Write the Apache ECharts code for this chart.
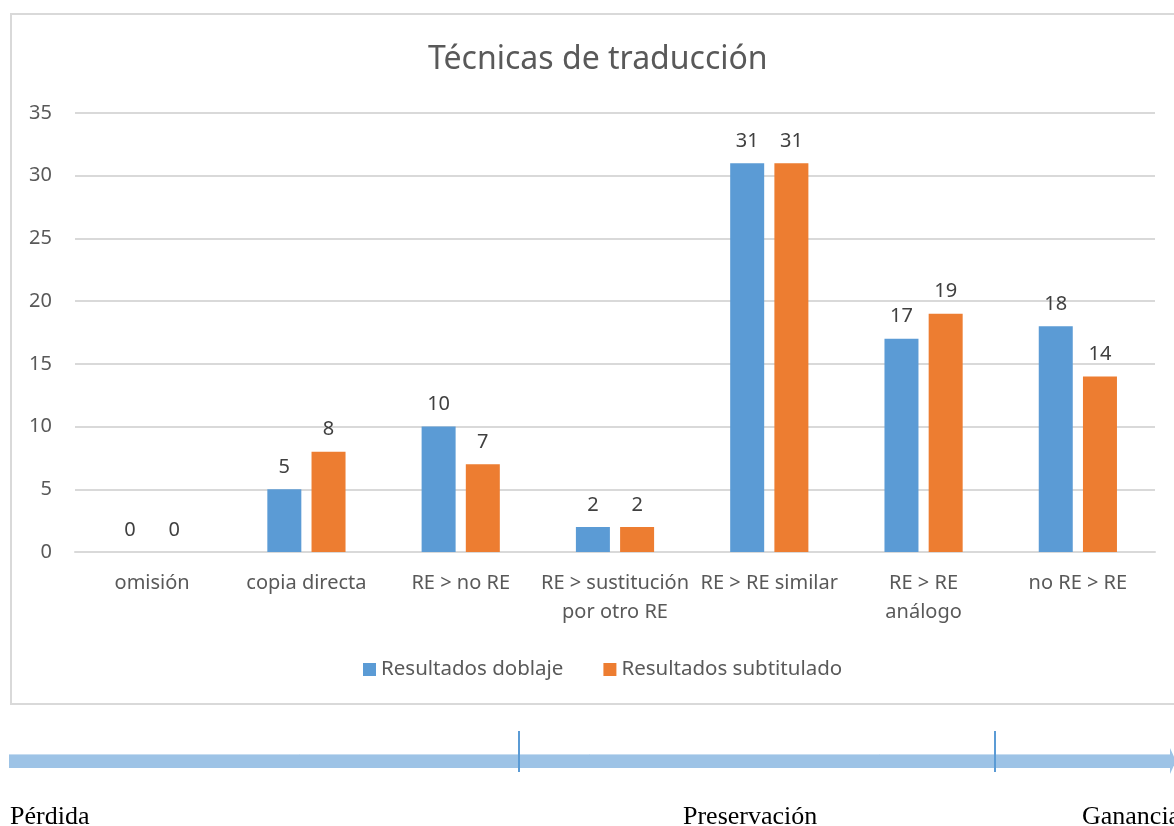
<!DOCTYPE html>
<html>
<head>
<meta charset="utf-8">
<script src="https://cdn.jsdelivr.net/npm/echarts@6/dist/echarts.min.js"></script>
<style>
  html, body { margin: 0; padding: 0; background: #fff; }
  #chart { width: 1174px; height: 826px; }
</style>
</head>
<body>
<div id="chart"></div>
<script>
const categories = ['omisión', 'copia directa', 'RE > no RE', 'RE > sustitución\npor otro RE', 'RE > RE similar', 'RE > RE\nanálogo', 'no RE > RE'];
const doblaje = [0, 5, 10, 2, 31, 17, 18];
const subtitulado = [0, 8, 7, 2, 31, 19, 14];
const yTicks = { min: 0, max: 35, interval: 5 };

const font = '"Noto Sans", "Open Sans", sans-serif';
const serif = '"Liberation Serif", "DejaVu Serif", serif';

const chart = echarts.init(document.getElementById('chart'));

const barLabel = {
    show: true,
    position: 'top',
    distance: 12,
    color: '#404040',
    fontSize: 20,
    fontFamily: font,
};

chart.setOption({
    animation: false,
    title: {
        text: 'Técnicas de traducción',
        left: 423,
        top: 39,
        textStyle: { fontFamily: font, fontSize: 32, fontWeight: 'normal', color: '#595959' },
    },
    legend: {
        top: 654,
        left: 358,
        icon: 'rect',
        itemWidth: 13,
        itemHeight: 13,
        itemGap: 40,
        textStyle: { fontFamily: font, fontSize: 20.5, color: '#595959' },
        data: ['Resultados doblaje', 'Resultados subtitulado'],
    },
    grid: { left: 75, right: 19, top: 113, bottom: 274 },
    xAxis: {
        type: 'category',
        data: categories,
        axisTick: { show: false },
        axisLine: { lineStyle: { color: '#d9d9d9', width: 2 } },
        axisLabel: {
            interval: 0,
            margin: 17,
            fontFamily: font,
            fontSize: 20,
            color: '#595959',
            lineHeight: 29,
        },
    },
    yAxis: {
        type: 'value',
        min: yTicks.min,
        max: yTicks.max,
        interval: yTicks.interval,
        axisLine: { show: false },
        axisTick: { show: false },
        splitLine: { lineStyle: { color: '#d9d9d9', width: 2 } },
        axisLabel: { margin: 23, fontFamily: font, fontSize: 20, color: '#595959' },
    },
    series: [
        {
            name: 'Resultados doblaje',
            type: 'bar',
            data: doblaje,
            barWidth: 34,
            barGap: '30%',
            itemStyle: { color: '#5b9bd5' },
            label: barLabel,
        },
        {
            name: 'Resultados subtitulado',
            type: 'bar',
            data: subtitulado,
            barWidth: 34,
            barGap: '30%',
            itemStyle: { color: '#ed7d31' },
            label: barLabel,
        },
    ],
    graphic: [
        // chart frame
        {
            type: 'rect',
            shape: { x: 11, y: 14, width: 1180, height: 690 },
            style: { fill: 'none', stroke: '#d9d9d9', lineWidth: 2 },
            z: -1,
        },
        // scale bar under the chart
        {
            type: 'rect',
            shape: { x: 9, y: 754, width: 1161, height: 14 },
            style: { fill: '#9dc3e6' },
        },
        {
            type: 'line',
            shape: { x1: 9, y1: 754.5, x2: 1170, y2: 754.5 },
            style: { stroke: '#c6dcf0', lineWidth: 1 },
        },
        {
            type: 'polygon',
            shape: { points: [[1170, 748], [1176, 761], [1170, 774]] },
            style: { fill: '#9dc3e6' },
        },
        {
            type: 'line',
            shape: { x1: 519, y1: 731, x2: 519, y2: 772 },
            style: { stroke: '#5b9bd5', lineWidth: 2 },
        },
        {
            type: 'line',
            shape: { x1: 995, y1: 731, x2: 995, y2: 772 },
            style: { stroke: '#5b9bd5', lineWidth: 2 },
        },
        {
            type: 'text',
            left: 10,
            top: 804,
            style: { text: 'Pérdida', fontFamily: serif, fontSize: 26, fill: '#000' },
        },
        {
            type: 'text',
            left: 683,
            top: 804,
            style: { text: 'Preservación', fontFamily: serif, fontSize: 26, fill: '#000' },
        },
        {
            type: 'text',
            left: 1082,
            top: 804,
            style: { text: 'Ganancia', fontFamily: serif, fontSize: 26, fill: '#000' },
        },
    ],
});
</script>
</body>
</html>
